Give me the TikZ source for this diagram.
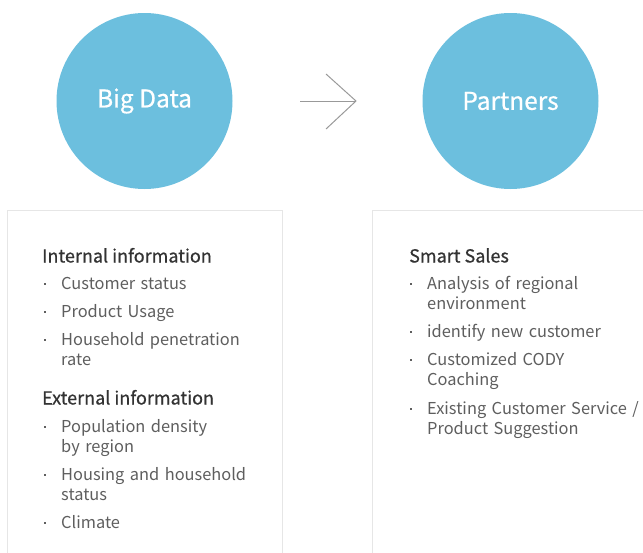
\documentclass[tikz,border=0pt]{standalone}
\usepackage{fontspec}
\setmainfont{Noto Sans CJK KR}
\newfontfamily\headfont[FakeBold=0.6]{Noto Sans CJK KR}
\definecolor{circ}{HTML}{6CBFDE}
\definecolor{headc}{HTML}{333333}
\definecolor{itemc}{HTML}{5E5E5E}
\definecolor{boxc}{HTML}{E6E6E6}
\definecolor{arrc}{HTML}{999999}
\tikzset{
  bubble/.style={circle, fill=circ, minimum size=176pt, inner sep=0, text=white, font=\headfont\fontsize{24.5}{24}\selectfont},
  panel/.style={draw=boxc, line width=1pt},
  head/.style={anchor=base west, inner sep=0, text=headc, font=\headfont\fontsize{18}{20}\selectfont},
  item/.style={anchor=base west, inner sep=0, text=itemc, align=left, text width=230pt, font=\fontsize{16.4}{20}\selectfont},
  dot/.style={fill=itemc, minimum size=2.6pt, inner sep=0},
}
\begin{document}
\begin{tikzpicture}[x=1pt,y=-1pt]
\useasboundingbox (0,0) rectangle (643,552);
\begin{scope}
\clip (0,0) rectangle (643,552);
\draw[panel] (7.5,210.5) rectangle (282.5,600);
\draw[panel] (372.5,210.5) rectangle (700,600);
\end{scope}
\node[bubble] (big) at (144.5,101) {Big Data};
\node[bubble] (part) at (510.5,101) {Partners};
\coordinate (a0) at (300,101);
\coordinate (tip) at (356,101);
\coordinate (u) at (326,74);
\coordinate (d) at (326,129);
\draw[arrc, line width=1pt] (a0) -- (tip);
\draw[arrc, line width=1pt] (u) -- (tip) -- (d);
% left panel
\node[head] (h1) at (42,262.5) {Internal information};
\node[item] (i1) at (61,289) {Customer status};
\node[item] (i2) at (61,317) {Product Usage};
\node[item] (i3) at (61,345) {Household penetration\\rate};
\node[head] (h2) at (42,404.5) {External information};
\node[item] (i4) at (61,432) {Population density\\by region};
\node[item] (i5) at (61,480) {Housing and household\\status};
\node[item] (i6) at (61,528) {Climate};
\foreach \n/\y in {1/284,2/312,3/340,4/427,5/475,6/523} \node[dot] (b\n) at (45,\y) {};
% right panel
\node[head] (h3) at (409,262.5) {Smart Sales};
\node[item] (j1) at (427,289) {Analysis of regional\\environment};
\node[item] (j2) at (427,337) {identify new customer};
\node[item] (j3) at (427,365) {Customized CODY\\Coaching};
\node[item] (j4) at (427,414) {Existing Customer Service /\\Product Suggestion};
\foreach \n/\y in {1/284,2/332,3/360,4/409} \node[dot] (c\n) at (411,\y) {};
\end{tikzpicture}
\end{document}
